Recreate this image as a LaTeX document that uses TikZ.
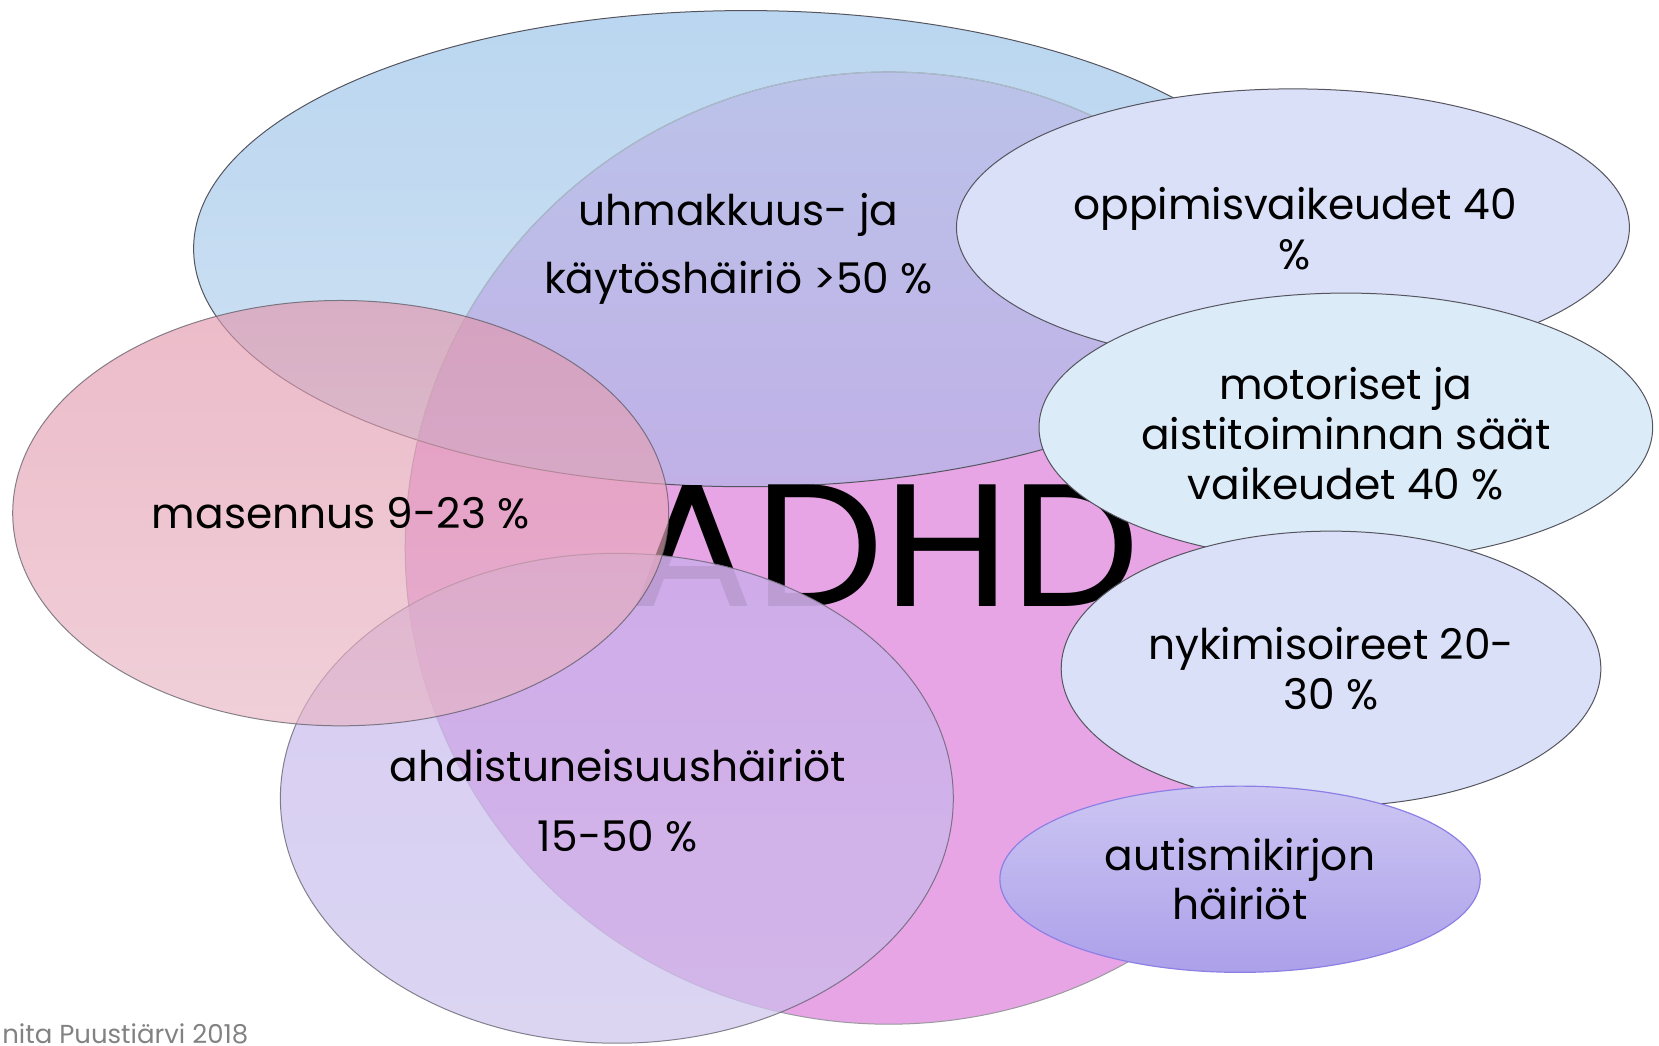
\documentclass[tikz,border=0pt]{standalone}
\usepackage{fontspec}
\setmainfont{Poppins}
\usetikzlibrary{shapes.geometric}
\definecolor{adhdpink}{RGB}{232,165,230}
\definecolor{blueT}{RGB}{186,214,240}
\definecolor{blueB}{RGB}{208,226,243}
\definecolor{purT}{RGB}{186,198,234}
\definecolor{purB}{RGB}{192,176,230}
\definecolor{masT}{RGB}{226,150,172}
\definecolor{masB}{RGB}{232,182,196}
\definecolor{ahdT}{RGB}{194,176,236}
\definecolor{ahdB}{RGB}{200,192,236}
\definecolor{oppfill}{RGB}{218,224,248}
\definecolor{motfill}{RGB}{220,235,248}
\definecolor{nykfill}{RGB}{218,224,248}
\definecolor{autT}{RGB}{204,198,242}
\definecolor{autB}{RGB}{172,160,234}
\definecolor{autedge}{RGB}{140,128,228}
\definecolor{edgegray}{RGB}{85,85,95}
\definecolor{footgray}{RGB}{130,130,130}
\tikzset{
  edge/.style={draw=edgegray, line width=1pt},
  lbl/.style={align=center, inner sep=0pt, font=\fontsize{42.3}{49.7}\selectfont},
  bigtxt/.style={inner sep=0pt, font=\fontsize{174.6}{174.6}\selectfont},
}
\begin{document}
\begin{tikzpicture}[x=1.058pt,y=-1.058pt]
\useasboundingbox (0,0) rectangle (1568,987.7);
\clip (0,0) rectangle (1568,987.7);
% ADHD ellipse
\fill[adhdpink] (840,518) ellipse [x radius=457, y radius=450];
% uhmakkuus ellipse
\shade[top color=blueT, bottom color=blueB] (705,235) ellipse [x radius=522, y radius=225];
\begin{scope}
  \clip (840,518) ellipse [x radius=457, y radius=450];
  \shade[top color=purT, bottom color=purB] (705,235) ellipse [x radius=522, y radius=225];
\end{scope}
\draw[edge] (705,235) ellipse [x radius=522, y radius=225];
\draw[edgegray!60, line width=1pt] (840,518) ellipse [x radius=457, y radius=450];
\begin{scope}
  \clip (705,235) ellipse [x radius=522, y radius=225];
  \draw[blueT!70!gray, line width=1pt] (840,518) ellipse [x radius=457, y radius=450];
\end{scope}
% ADHD text
\node[bigtxt] (adhdtxt) at (837,516) {\scalebox{1.05}[1]{ADHD}};
% ahdistuneisuus (nearly hides the text, lets the pink through)
\begin{scope}
  \clip (583,754.5) ellipse [x radius=318, y radius=231.5];
  \fill[white] (583,754.5) ellipse [x radius=318, y radius=231.5];
  \fill[adhdpink] (840,518) ellipse [x radius=457, y radius=450];
  \draw[edgegray!60, draw opacity=0.6, line width=1pt] (840,518) ellipse [x radius=457, y radius=450];
  \shade[top color=ahdT, bottom color=ahdB, fill opacity=0.65] (583,754.5) ellipse [x radius=318, y radius=231.5];
  \node[bigtxt, text opacity=0.09] (adhdghost) at (837,516) {\scalebox{1.05}[1]{ADHD}};
\end{scope}
\draw[edge, draw opacity=0.7] (583,754.5) ellipse [x radius=318, y radius=231.5];
% masennus
\shade[top color=masT, bottom color=masB, fill opacity=0.65] (322,485) ellipse [x radius=310, y radius=201];
\draw[edge, draw opacity=0.7] (322,485) ellipse [x radius=310, y radius=201];
% right-hand ellipses
\filldraw[fill=oppfill, edge] (1222,215) ellipse [x radius=318, y radius=131];
\filldraw[fill=motfill, edge] (1272,404) ellipse [x radius=290, y radius=127];
\filldraw[fill=nykfill, edge] (1258,632) ellipse [x radius=255, y radius=130];
\shade[top color=autT, bottom color=autB] (1172,831) ellipse [x radius=227, y radius=88];
\draw[draw=autedge, line width=1.2pt] (1172,831) ellipse [x radius=227, y radius=88];
% labels
\node[lbl, font=\fontsize{42.3}{67.7}\selectfont] (uhm) at (698,235) {uhmakkuus- ja\\käytöshäiriö >50 \%};
\node[lbl] (mas) at (322,485) {masennus 9-23 \%};
\node[lbl, font=\fontsize{42.3}{69.8}\selectfont] (ahd) at (584,757) {ahdistuneisuushäiriöt\\15-50 \%};
\node[lbl] (opp) at (1224,216) {oppimisvaikeudet 40\\\%};
\node[lbl] (mot) at (1272,410) {motoriset ja\\aistitoiminnan säät\\vaikeudet 40 \%};
\node[lbl] (nyk) at (1258,632) {nykimisoireet 20-\\30 \%};
\node[lbl] (aut) at (1172,831) {autismikirjon\\häiriöt};
\node[anchor=base west, inner sep=0pt, text=footgray, font=\fontsize{26}{26}\selectfont] (foot) at (2,986.3) {nita Puustiärvi 2018};
\end{tikzpicture}
\end{document}
